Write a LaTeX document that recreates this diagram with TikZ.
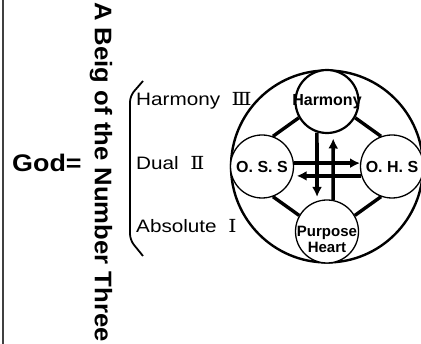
\documentclass[tikz,border=0pt]{standalone}
\usepackage{fontspec}
\setmainfont{Liberation Sans}
\newfontfamily\romfont{DejaVu Serif}
\usetikzlibrary{arrows.meta}

\begin{document}
\begin{tikzpicture}[
  x=1pt, y=-1pt,
  >={Latex[length=10pt,width=10pt]},
  ring/.style={draw,circle,minimum size=63pt,inner sep=0,fill=white,line width=1.3pt},
  inring/.style={font=\fontsize{16}{16}\selectfont\bfseries,align=center,inner sep=0},
  item/.style={anchor=west,inner sep=0,font=\fontsize{18}{20}\selectfont},
  link/.style={line width=3.4pt},
  flow/.style={->,line width=3.6pt}
  ]

  \useasboundingbox (0,0) rectangle (421,344);
  \draw[line width=1.2pt,black!75] (3,0) -- (3,344);

  \node [anchor=west,inner sep=0,font=\fontsize{24}{28}\selectfont\bfseries] (god) at (12,163)
    {\scalebox{1.12}[1]{God=}};
  \node [rotate=-90,inner sep=0,font=\fontsize{24}{26}\selectfont\bfseries] (title) at (101,172)
    {\scalebox{1.07}[1]{A Beig of the Number Three}};

  % brace and the three kinds
  \draw[line width=1.8pt,rounded corners=6pt] (143,81) -- (130,96) -- (130,240) -- (143,256);
  \node [item] (three) at (136,101) {\scalebox{1.15}[1]{Harmony\ \ {\romfont Ⅲ}}};
  \node [item] (two) at (136,163) {\scalebox{1.15}[1]{Dual\ \ {\romfont Ⅱ}}};
  \node [item] (one) at (136,226) {\scalebox{1.15}[1]{Absolute\ \ {\romfont Ⅰ}}};

  % the wheel
  \node [draw,circle,minimum size=192pt,line width=2.4pt] (wheel) at (327,166.5) {};
  \node [ring,line width=2.2pt,label={[inring]center:Harmony}] (harm) at (327,101.5) {};
  \node [ring,label={[inring]center:O. S. S}] (oss) at (262,166.5) {};
  \node [ring,label={[inring]center:O. H. S}] (ohs) at (392,166.5) {};
  \node [ring,label={[inring,font=\fontsize{15}{16}\selectfont\bfseries,yshift=-8pt]center:Purpose\\Heart}] (pur) at (327,231.5) {};

  \draw[link] (harm.210) -- (oss.70);
  \draw[link] (harm.330) -- (ohs.110);
  \draw[link] (oss.290) -- (pur.150);
  \draw[link] (ohs.250) -- (pur.30);

  \draw[flow,shorten >=4pt] (harm.-108) -- (pur.108);
  \draw[flow,shorten >=5pt] (pur.79) -- (harm.-79);
  \draw[flow] (oss.6) -- (ohs.174);
  \draw[flow,shorten >=4pt] (ohs.-163) -- (oss.-17);

\end{tikzpicture}
\end{document}
